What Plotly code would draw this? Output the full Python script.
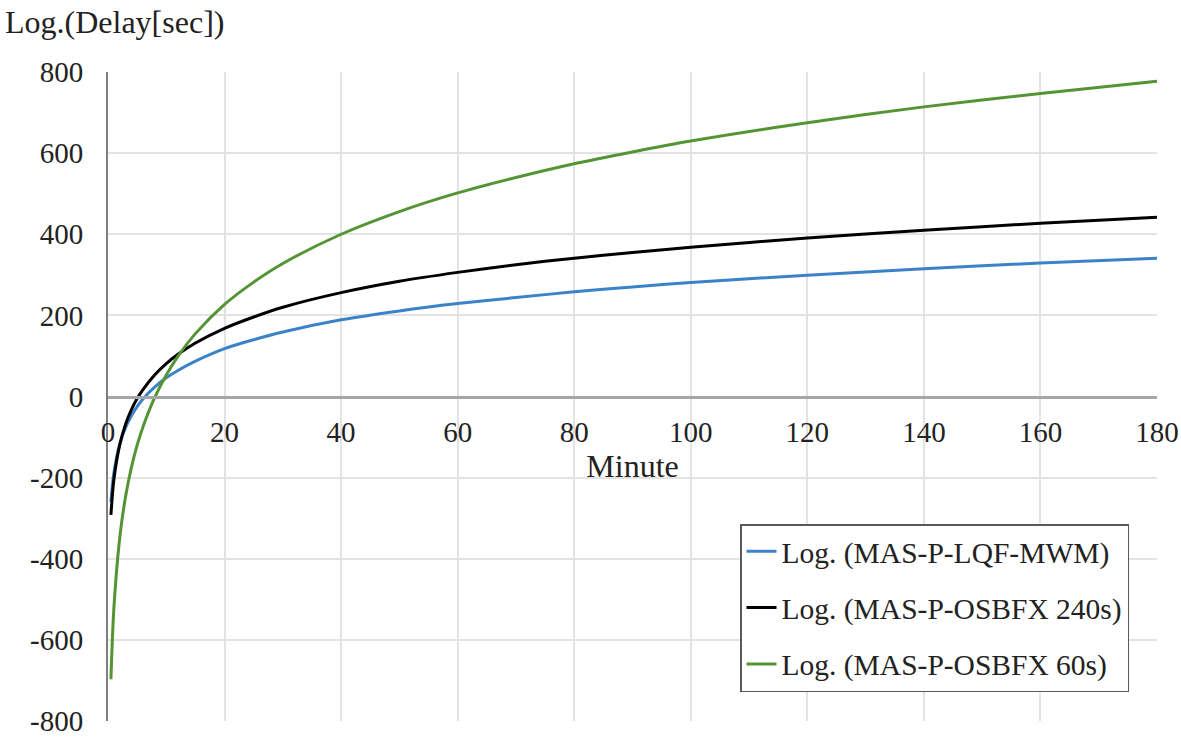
import plotly.graph_objects as go

minutes = [0.5, 1, 2, 3, 4, 5, 6, 8, 10, 12, 15, 20, 25, 30, 40, 50, 60, 70, 80, 90,
           100, 120, 140, 160, 180]

# Log. (MAS-P-LQF-MWM)
lqf_mwm = [-260, -189, -118, -77, -48, -25, -6, 23, 46, 64, 87, 118, 140, 159, 189, 211,
           229, 244, 258, 270, 281, 299, 315, 329, 341]

# Log. (MAS-P-OSBFX 240s)
osbfx_240 = [-292, -206, -120, -69, -33, -5, 17, 53, 81, 104, 132, 168, 196, 220, 256,
             284, 306, 325, 341, 355, 368, 391, 410, 427, 442]

# Log. (MAS-P-OSBFX 60s)
osbfx_60 = [-697, -524, -350, -248, -176, -120, -75, -3, 53, 99, 155, 227, 282, 328, 400,
            456, 502, 540, 574, 603, 630, 675, 714, 747, 777]

series_names = ["Log. (MAS-P-LQF-MWM)", "Log. (MAS-P-OSBFX 240s)", "Log. (MAS-P-OSBFX 60s)"]
series_colors = ["#3C82C8", "#000000", "#559434"]

x_ticks = [0, 20, 40, 60, 80, 100, 120, 140, 160, 180]
y_ticks = [-800, -600, -400, -200, 0, 200, 400, 600, 800]
y_tick_text = ["-800", "-600", "-400", "-200", "0", "200", "400", "600", "800"]

FONT = "Liberation Serif"
TXT = "#222222"

fig = go.Figure()
for i, (name, vals, col) in enumerate(zip(series_names, [lqf_mwm, osbfx_240, osbfx_60], series_colors)):
    fig.add_trace(go.Scatter(
        x=minutes, y=vals, name=name, mode="lines",
        line=dict(color=col, width=3, shape="spline", smoothing=0.8),
        legendgroup=f"g{i}", hoverinfo="x+y",
    ))

fig.update_layout(
    width=1181, height=738,
    margin=dict(l=108, r=24, t=72, b=17),
    paper_bgcolor="white", plot_bgcolor="white",
    font=dict(family=FONT, size=29, color=TXT),
    showlegend=True,
    legend=dict(
        x=0.6025, y=0.3035, xanchor="left", yanchor="top",
        bgcolor="white", bordercolor="#595959", borderwidth=1.5,
        font=dict(family=FONT, size=29.5, color=TXT),
        tracegroupgap=15, itemwidth=30,
    ),
    xaxis=dict(
        range=[0, 180], tickvals=x_ticks, ticktext=[str(v) for v in x_ticks],
        showgrid=True, gridcolor="#e3e3e3", gridwidth=1.5, automargin=False,
        zeroline=False, showline=True, linecolor="#a6a6a6", linewidth=2.5,
        anchor="free", position=0.5, ticks="", ticklabelstandoff=9,
        ticklabeloverflow="allow",
        tickfont=dict(family=FONT, size=29, color=TXT),
        title=dict(text="Minute", standoff=0, font=dict(family=FONT, size=32, color=TXT)),
    ),
    yaxis=dict(
        range=[-800, 800], tickvals=y_ticks, ticktext=y_tick_text,
        showgrid=True, gridcolor="#e3e3e3", gridwidth=1.5, automargin=False,
        zeroline=False, showline=True, linecolor="#7f7f7f", linewidth=2,
        ticks="", ticklabelstandoff=17, ticklabeloverflow="allow",
        tickfont=dict(family=FONT, size=29, color=TXT),
    ),
    annotations=[dict(
        text="Log.(Delay[sec])", xref="paper", yref="paper",
        x=-0.1001, y=1.077, xanchor="left", yanchor="middle", showarrow=False,
        font=dict(family=FONT, size=32, color=TXT),
    )],
)

fig.write_html(
    "out.html",
    config={"displayModeBar": False},
    post_script="document.body.style.margin='0px';document.body.style.overflow='hidden';",
)
